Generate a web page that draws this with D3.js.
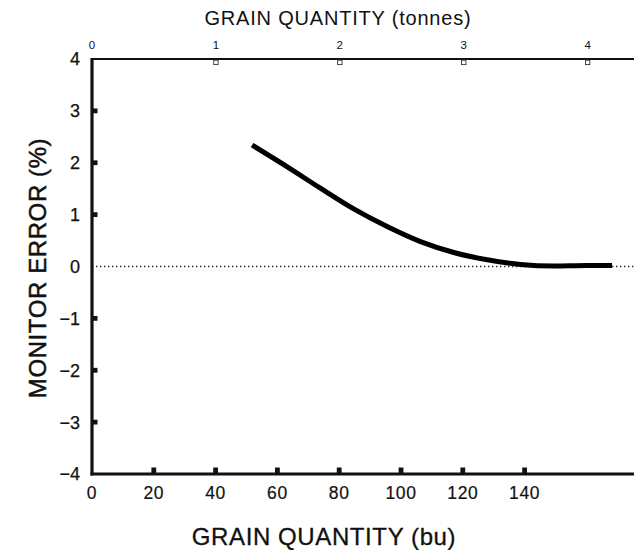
<!DOCTYPE html>
<html>
<head>
<meta charset="utf-8">
<script src="https://cdn.jsdelivr.net/npm/d3@7"></script>
<style>
  html, body { margin: 0; padding: 0; background: #fff; }
  svg { display: block; font-family: "Liberation Sans", Arial, Helvetica, sans-serif; }
</style>
</head>
<body>
<svg id="chart" width="634" height="550"></svg>
<script>
// ---- data ----
const grainBu    = [51.8, 63.2, 73.9, 84.7, 95.5, 106.3, 117.1, 127.9, 138.7, 149.4, 160.3, 168.3];
const monitorErr = [2.34, 1.92, 1.51, 1.11, 0.77, 0.48, 0.27, 0.13, 0.04, 0.01, 0.02, 0.02];
const buTicks    = [0, 20, 40, 60, 80, 100, 120, 140];
const errTicks   = [-4, -3, -2, -1, 0, 1, 2, 3, 4];
const tonneTicks = [0, 1, 2, 3, 4];
const BU_PER_TONNE = 40.1;

const svg = d3.select("#chart");
const pLeft = 92, pRight = 634, pTop = 59, pBottom = 474;

const x = d3.scaleLinear().domain([0, 175.4]).range([pLeft, pRight]);
const y = d3.scaleLinear().domain([-4, 4]).range([pBottom, pTop]);
const xt = d3.scaleLinear().domain([0, 4]).range([x(0), x(4 * BU_PER_TONNE)]);

// zero reference dotted line
svg.append("line")
  .attr("x1", x(0)).attr("x2", pRight + 2)
  .attr("y1", y(0)).attr("y2", y(0))
  .attr("stroke", "#222").attr("stroke-width", 1.3)
  .attr("stroke-dasharray", "1.4,2.6");

// frame lines
svg.append("line").attr("x1", pLeft).attr("x2", pRight + 2).attr("y1", pTop).attr("y2", pTop)
  .attr("stroke", "#111").attr("stroke-width", 2);
svg.append("line").attr("x1", pLeft).attr("x2", pLeft).attr("y1", pTop - 1).attr("y2", pBottom + 1.5)
  .attr("stroke", "#111").attr("stroke-width", 3.2);
svg.append("line").attr("x1", pLeft - 1.5).attr("x2", pRight + 2).attr("y1", pBottom).attr("y2", pBottom)
  .attr("stroke", "#111").attr("stroke-width", 3.2);

// left ticks (filled marks pointing inward)
svg.selectAll(".ytick").data(errTicks.filter(d => d > -4 && d < 4 && d !== 0)).enter()
  .append("rect")
  .attr("x", pLeft).attr("y", d => y(d) - 2.4)
  .attr("width", 5.5).attr("height", 4.8).attr("fill", "#111");

// bottom ticks
svg.selectAll(".xtick").data(buTicks.filter(d => d > 0)).enter()
  .append("rect")
  .attr("x", d => x(d) - 2.4).attr("y", pBottom - 6.5)
  .attr("width", 4.8).attr("height", 6.5).attr("fill", "#111");

// top ticks (hollow squares)
svg.selectAll(".ttick").data(tonneTicks.filter(d => d > 0)).enter()
  .append("rect")
  .attr("x", d => xt(d) - 2.2).attr("y", pTop + 1.2)
  .attr("width", 4.4).attr("height", 4.4)
  .attr("fill", "#fff").attr("stroke", "#333").attr("stroke-width", 0.9);

// y tick labels
svg.selectAll(".ylab").data(errTicks).enter()
  .append("text")
  .attr("x", 80).attr("y", d => y(d)).attr("dy", "0.36em")
  .attr("text-anchor", "end").attr("font-size", 18).attr("fill", "#111")
  .attr("stroke", "#111").attr("stroke-width", 0.25)
  .text(d => d3.format("d")(d));

// x tick labels
svg.selectAll(".xlab").data(buTicks).enter()
  .append("text")
  .attr("x", d => x(d)).attr("y", 499)
  .attr("text-anchor", "middle").attr("font-size", 17.5).attr("letter-spacing", 0.6).attr("fill", "#111")
  .attr("stroke", "#111").attr("stroke-width", 0.2)
  .text(d => d);

// top tick labels
svg.selectAll(".tlab").data(tonneTicks).enter()
  .append("text")
  .attr("x", d => xt(d)).attr("y", 49)
  .attr("text-anchor", "middle").attr("font-size", 11.5).attr("fill", "#111")
  .text(d => d);

// titles
svg.append("text").attr("x", 338).attr("y", 25).attr("text-anchor", "middle")
  .attr("font-size", 20).attr("letter-spacing", 0.8).attr("fill", "#111")
  .text("GRAIN QUANTITY (tonnes)");
svg.append("text").attr("x", 324).attr("y", 545).attr("text-anchor", "middle")
  .attr("font-size", 24).attr("letter-spacing", 0.6).attr("fill", "#111")
  .attr("stroke", "#111").attr("stroke-width", 0.3)
  .text("GRAIN QUANTITY (bu)");
svg.append("text")
  .attr("transform", "translate(46,268) rotate(-90)")
  .attr("text-anchor", "middle")
  .attr("font-size", 24).attr("letter-spacing", 0.6).attr("fill", "#111")
  .attr("stroke", "#111").attr("stroke-width", 0.5)
  .text("MONITOR ERROR (%)");

// curve
const pts = grainBu.map((b, i) => [b, monitorErr[i]]);
svg.append("path")
  .datum(pts)
  .attr("fill", "none").attr("stroke", "#000").attr("stroke-width", 5)
  .attr("stroke-linecap", "butt")
  .attr("d", d3.line().x(d => x(d[0])).y(d => y(d[1])).curve(d3.curveMonotoneX));
</script>
</body>
</html>
